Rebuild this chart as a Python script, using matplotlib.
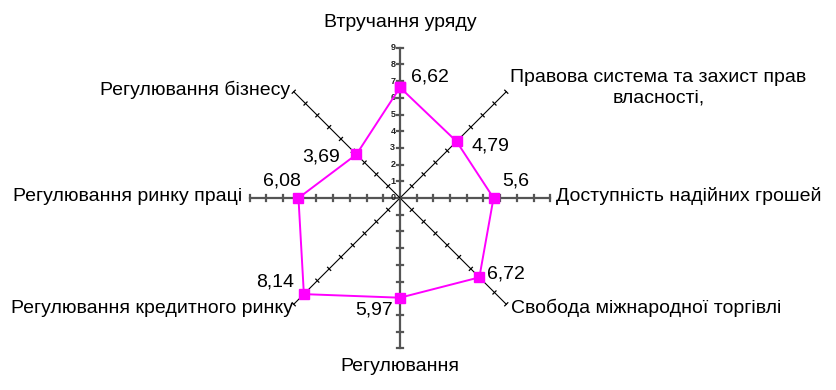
import numpy as np
import matplotlib.pyplot as plt

plt.rcParams['font.family'] = ['Liberation Sans', 'DejaVu Sans']

categories = ["Втручання уряду", "Правова система та захист прав\nвласності,",
              "Доступність надійних грошей", "Свобода міжнародної торгівлі",
              "Регулювання", "Регулювання кредитного ринку",
              "Регулювання ринку праці", "Регулювання бізнесу"]
values = [6.62, 4.79, 5.6, 6.72, 5.97, 8.14, 6.08, 3.69]
value_labels = ["6,62", "4,79", "5,6", "6,72", "5,97", "8,14", "6,08", "3,69"]
rmax = 9

# offsets (px) for category labels: (dx, dy, ha)
cat_off = [(0, 25, 'center'), (4, 4, 'left'), (6, 2, 'left'), (5, -4, 'left'),
           (0, -18, 'center'), (-1, -4, 'right'), (-7, 2, 'right'), (-4, 2, 'right')]
# offsets (px) for value labels
val_off = [(30, 10, 'center'), (34, -5, 'center'), (22, 17, 'center'), (27, 3, 'center'),
           (-26, -12, 'center'), (-29, 12, 'center'), (-17, 17, 'center'), (-35, -3, 'center')]

n = len(categories)
ang = np.arange(n) * 2 * np.pi / n
ux, uy = np.sin(ang), np.cos(ang)

fig = plt.figure(figsize=(8.36, 3.9), dpi=100)
ax = fig.add_axes([0, 0, 1, 1])
sc = 16.7
ax.set_xlim(-400 / sc, 436 / sc)
ax.set_ylim(-192 / sc, 198 / sc)
ax.axis('off')

r_ticks = np.arange(1, rmax + 1)
for i in range(n):
    main = i % 2 == 0
    col = '#555555' if main else 'black'
    lw = 1.6 if main else 0.8
    hl = 0.19 if main else 0.13
    ax.plot([0, rmax * ux[i]], [0, rmax * uy[i]], color=col, lw=lw, zorder=1)
    px, py = -uy[i], ux[i]
    for r in r_ticks:
        cx, cy = r * ux[i], r * uy[i]
        ax.plot([cx - hl * px, cx + hl * px], [cy - hl * py, cy + hl * py],
                color=col, lw=lw if main else 0.9, zorder=1)

# vertical tick labels
for r in range(0, rmax + 1):
    ax.text(-0.28, r, str(r), ha='right', va='center', fontsize=6.5,
            fontweight='bold', color='#222222')

xs = np.array(values) * ux
ys = np.array(values) * uy
ax.plot(np.append(xs, xs[0]), np.append(ys, ys[0]), color='#ff00ff', lw=1.4,
        marker='s', markersize=6.5, zorder=3)

k = 0.72
for i in range(n):
    dx, dy, ha = cat_off[i]
    ax.annotate(categories[i], (rmax * ux[i], rmax * uy[i]), xytext=(dx * k, dy * k),
                textcoords='offset points', ha=ha, va='center', fontsize=14,
                multialignment='center', linespacing=1.3)
    dx, dy, ha = val_off[i]
    ax.annotate(value_labels[i], (xs[i], ys[i]), xytext=(dx * k, dy * k),
                textcoords='offset points', ha=ha, va='center', fontsize=14)

fig.savefig('out.png', dpi=100)
